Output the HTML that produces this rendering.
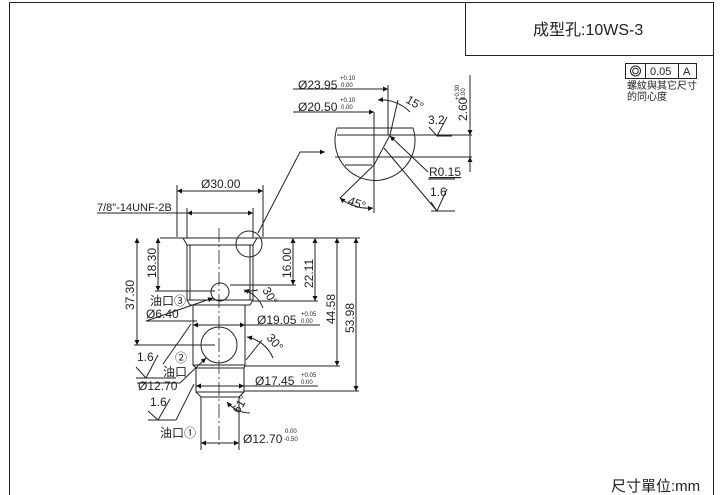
<!DOCTYPE html>
<html><head><meta charset="utf-8"><style>
html,body{margin:0;padding:0;background:#fff;}
svg{display:block;}
text{font-family:"Liberation Sans","Noto Sans CJK TC",sans-serif;fill:#222;}
</style></head><body>
<svg width="720" height="495" viewBox="0 0 720 495" xmlns="http://www.w3.org/2000/svg">
<defs>
<marker id="a" viewBox="0 0 10 10" refX="10" refY="5" markerWidth="8" markerHeight="5" orient="auto-start-reverse"><path d="M0,0 L10,5 L0,10z" fill="#111"/></marker>
</defs>
<g stroke="#222" fill="none" stroke-width="1">
<path d="M9.5,495 V2.5 H713.5 V495"/>
<rect x="465.5" y="2.5" width="248" height="53"/>
<rect x="625.5" y="63.5" width="71" height="15"/>
<line x1="645.5" y1="63.5" x2="645.5" y2="78.5"/><line x1="678.5" y1="63.5" x2="678.5" y2="78.5"/>
<circle cx="635.5" cy="71" r="5"/><circle cx="635.5" cy="71" r="2.8"/>

<path d="M183,238 H257 L253,245 V300 H187 V245 Z"/>
<line x1="190" y1="245" x2="190" y2="300"/><line x1="250" y1="245" x2="250" y2="300"/>
<line x1="187" y1="245" x2="253" y2="245"/>
<path d="M187,300 L190,305 H250 L253,300"/>
<path d="M193,305 V365 H245 V305"/>
<path d="M193,365 L196,368 V392 L201,397 H239 L244,392 V368 L245,365"/>
<line x1="196" y1="368" x2="244" y2="368"/>
<line x1="196" y1="392" x2="244" y2="392"/>
<path d="M201,397 V450 M239,397 V450"/>
<line x1="219" y1="228" x2="219" y2="448" stroke-dasharray="14 3 2 3" stroke-width="0.8"/>
<circle cx="220" cy="292" r="9"/>
<circle cx="219" cy="345" r="18"/>
<circle cx="249" cy="244" r="13"/>
<line x1="160" y1="238" x2="183" y2="238"/><line x1="257" y1="238" x2="360" y2="238"/>
<line x1="177" y1="185" x2="177" y2="237"/><line x1="263" y1="185" x2="263" y2="237"/>
<line x1="177" y1="191" x2="263" y2="191" marker-start="url(#a)" marker-end="url(#a)"/>
<line x1="97" y1="213" x2="187" y2="213"/>
<line x1="187" y1="213" x2="253" y2="213" marker-start="url(#a)" marker-end="url(#a)"/>
<line x1="187" y1="208" x2="187" y2="238"/><line x1="253" y1="208" x2="253" y2="238"/>
<line x1="158" y1="238" x2="158" y2="291" marker-start="url(#a)" marker-end="url(#a)"/>
<line x1="155" y1="291" x2="215" y2="291"/>
<line x1="137" y1="238" x2="137" y2="345" marker-start="url(#a)" marker-end="url(#a)"/>
<line x1="134" y1="345" x2="215" y2="345"/>
<line x1="293" y1="238" x2="293" y2="285" marker-start="url(#a)" marker-end="url(#a)"/>
<line x1="230" y1="285" x2="296" y2="285"/>
<line x1="315" y1="238" x2="315" y2="301" marker-start="url(#a)" marker-end="url(#a)"/>
<line x1="253" y1="301" x2="318" y2="301"/>
<line x1="337" y1="238" x2="337" y2="366" marker-start="url(#a)" marker-end="url(#a)"/>
<line x1="245" y1="366" x2="340" y2="366"/>
<line x1="356" y1="238" x2="356" y2="391" marker-start="url(#a)" marker-end="url(#a)"/>
<line x1="244" y1="391" x2="359" y2="391"/>
<line x1="193" y1="325" x2="245" y2="325" marker-start="url(#a)" marker-end="url(#a)"/>
<line x1="245" y1="325" x2="320" y2="325"/>
<line x1="196" y1="386" x2="244" y2="386" marker-start="url(#a)" marker-end="url(#a)"/>
<line x1="244" y1="386" x2="318" y2="386"/>
<line x1="201" y1="443" x2="239" y2="443" marker-start="url(#a)" marker-end="url(#a)"/>
<line x1="146" y1="321" x2="213" y2="298" marker-end="url(#a)"/>
<line x1="146" y1="321" x2="197" y2="321"/>
<line x1="137" y1="383" x2="180" y2="383"/>
<line x1="180" y1="383" x2="206" y2="358" marker-end="url(#a)"/>
<line x1="163" y1="364" x2="191" y2="324"/>
<line x1="176" y1="420" x2="194" y2="384"/>
<path d="M244,290 A30,30 0 0 1 263,308" marker-start="url(#a)"/>
<path d="M247,337 A35,35 0 0 1 273,358" marker-start="url(#a)"/>
<path d="M227,402 A30,30 0 0 0 250,413" marker-start="url(#a)"/>
<line x1="244" y1="292" x2="258" y2="290"/>
<line x1="246" y1="360" x2="262" y2="340"/>
<path d="M136,367 L146,378 L158,355 M136,378 H176"/>
<path d="M148,411 L158,420 L170,399 M148,420 H176"/>
<path d="M258,233 L300,152 H325" marker-end="url(#a)"/>

<path d="M337,128 A40,40 0 1 0 413,128 Z"/>
<line x1="337" y1="135" x2="472" y2="135"/>
<line x1="335" y1="157" x2="472" y2="157"/>
<line x1="345" y1="165" x2="372" y2="165"/>
<line x1="374" y1="112" x2="374" y2="213"/>
<line x1="388" y1="85" x2="388" y2="135"/>
<line x1="293" y1="89" x2="388" y2="89" marker-end="url(#a)"/>
<line x1="293" y1="112" x2="374" y2="112" marker-end="url(#a)"/>
<line x1="390" y1="135" x2="398" y2="100"/>
<path d="M378,100 A40,40 0 0 1 410,112" marker-start="url(#a)"/>
<line x1="390" y1="135" x2="374" y2="165"/>
<line x1="374" y1="165" x2="340" y2="198"/>
<path d="M340,198 A45,45 0 0 0 373,208" marker-start="url(#a)" marker-end="url(#a)"/>
<line x1="428" y1="172" x2="390" y2="136" marker-end="url(#a)"/>
<line x1="428" y1="179" x2="455" y2="179"/>
<line x1="437" y1="211" x2="384" y2="148"/>
<path d="M429,127 L437,136 L447,117 M437,136 H452"/>
<path d="M431,202 L437,211 L447,189 M431,211 H455"/>
<line x1="470" y1="75" x2="470" y2="157"/>
<line x1="470" y1="120" x2="470" y2="135" marker-end="url(#a)"/>
<line x1="470" y1="172" x2="470" y2="157" marker-end="url(#a)"/>
</g>

<g font-size="12">
<text x="533" y="35" font-size="16">成型孔:10WS-3</text>
<text x="650" y="75" font-size="11">0.05</text>
<text x="683" y="75" font-size="11">A</text>
<text x="627" y="89" font-size="10">螺紋與其它尺寸</text>
<text x="627" y="100" font-size="10">的同心度</text>
<text x="611" y="491" font-size="15">尺寸單位:mm</text>

<text x="201" y="188">Ø30.00</text>
<text x="97" y="211" font-size="11">7/8"-14UNF-2B</text>
<text x="150" y="305">油口③</text>
<text x="146" y="318">Ø6.40</text>
<text x="257" y="324">Ø19.05</text>
<text x="301" y="316" font-size="6">+0.05</text><text x="301" y="323" font-size="6">0.00</text>
<text x="175" y="362">②</text>
<text x="163" y="376">油口</text>
<text x="138" y="390">Ø12.70</text>
<text x="137" y="361">1.6</text>
<text x="150" y="406">1.6</text>
<text x="255" y="385">Ø17.45</text>
<text x="301" y="377" font-size="6">+0.05</text><text x="301" y="384" font-size="6">0.00</text>
<text x="160" y="437">油口①</text>
<text x="243" y="443">Ø12.70</text>
<text x="285" y="433" font-size="6">0.00</text><text x="284" y="441" font-size="6">-0.50</text>
<text transform="translate(156,278) rotate(-90)">18.30</text>
<text transform="translate(134,310) rotate(-90)">37.30</text>
<text transform="translate(291,278) rotate(-90)">16.00</text>
<text transform="translate(313,288) rotate(-90)">22.11</text>
<text transform="translate(335,324) rotate(-90)">44.58</text>
<text transform="translate(354,333) rotate(-90)">53.98</text>
<text transform="translate(262,290) rotate(60)">30°</text>
<text transform="translate(266,338) rotate(50)">30°</text>
<text transform="translate(239,414) rotate(-60)">61°</text>

<text x="298" y="89">Ø23.95</text>
<text x="340" y="80" font-size="6">+0.10</text><text x="341" y="87" font-size="6">0.00</text>
<text x="298" y="111">Ø20.50</text>
<text x="340" y="102" font-size="6">+0.10</text><text x="341" y="109" font-size="6">0.00</text>
<text transform="translate(405,102) rotate(30)">15°</text>
<text x="428" y="124">3.2</text>
<text x="429" y="176" text-decoration="underline">R0.15</text>
<text x="430" y="196">1.6</text>
<text transform="translate(347,204) rotate(20)">45°</text>
<text transform="translate(467,121) rotate(-90)">2.60</text>
<text transform="translate(459,100) rotate(-90)" font-size="6">+0.30</text>
<text transform="translate(465,100) rotate(-90)" font-size="6">0.00</text>
</g>
</svg>
</body></html>
